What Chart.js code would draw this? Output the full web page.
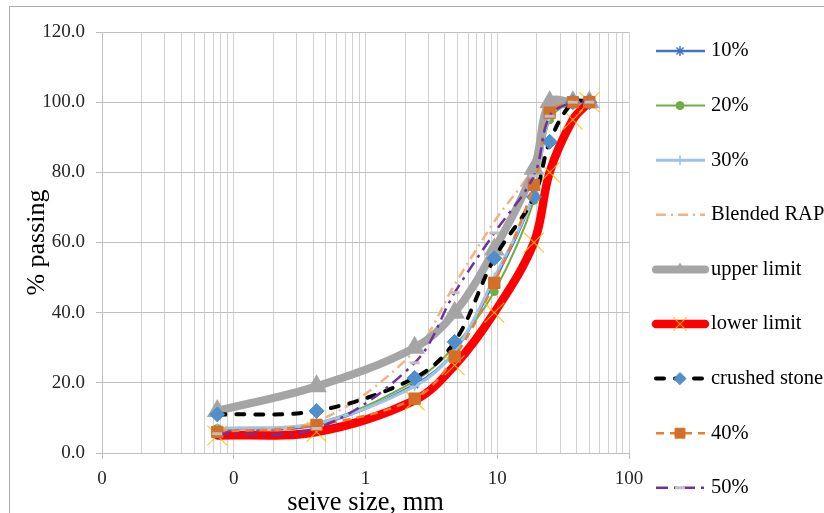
<!DOCTYPE html>
<html>
<head>
<meta charset="utf-8">
<script src="https://cdn.jsdelivr.net/npm/chart.js@4.4.1/dist/chart.umd.min.js"></script>
<style>
  html, body { margin: 0; padding: 0; background: #fff; overflow: hidden; }
  #wrap { position: absolute; left: 0; top: 0; }
</style>
</head>
<body>
<div id="wrap"><canvas id="gradationChart" width="860" height="530"></canvas></div>
<script>
// sieve sizes (mm) and % passing per blend
const sieveSizes   = [0.075, 0.425, 2.36, 4.75, 9.5, 19, 25, 37.5, 50];
const pct10        = [6.5, 8, 19.5, 29, 49, 74, 96, 100, 100];
const pct20        = [7, 8.5, 20.5, 30.5, 46, 72, 95, 100, 100];
const pct30        = [7, 8.5, 19, 29, 50, 74, 96, 100, 100];
const blendedRap   = [6, 9, 29, 48, 66, 82, 98, 100, 100];
const upperLimit   = [12, 19, 30, 40, 58, 81, 100, 100, 100];
const lowerLimit   = [5, 6, 15, 25, 40, 60, 80, 95, 100];
const crushedStone = [11, 12, 21.4, 31.7, 55.5, 73, 88.7, 100, 100];
const pct40        = [6, 8, 15.5, 27.5, 48.5, 76.4, 97, 100, 100];
const pct50        = [5.5, 7, 25.7, 45.7, 62.7, 79, 96, 100, 100];

const seriesNames = ['10%', '20%', '30%', 'Blended RAP', 'upper limit', 'lower limit', 'crushed stone', '40%', '50%'];
const seriesData = [pct10, pct20, pct30, blendedRap, upperLimit, lowerLimit, crushedStone, pct40, pct50];

const yTicks = [0, 20, 40, 60, 80, 100, 120];
const decades = [0.01, 0.1, 1, 10, 100];

const serif = "'Liberation Serif', 'Times New Roman', serif";
const W = 860, H = 530;
const plotLeft = 102, plotRight = 629, plotTop = 32, plotBottom = 453;

const styles = [
  {borderColor: '#4472C4', borderWidth: 2.5, pointStyle: 'star', pointRadius: 5, pointBorderColor: '#4472C4', pointBackgroundColor: '#4472C4', pointBorderWidth: 1.5},
  {borderColor: '#70AD47', borderWidth: 2, pointStyle: 'circle', pointRadius: 4, pointBorderColor: '#70AD47', pointBackgroundColor: '#70AD47', pointBorderWidth: 1},
  {borderColor: '#9DC3E6', borderWidth: 3, pointStyle: 'cross', pointRadius: 5, pointBorderColor: '#9DC3E6', pointBackgroundColor: '#9DC3E6', pointBorderWidth: 1.5},
  {borderColor: '#F4B183', borderWidth: 2.5, borderDash: [10, 5, 2, 5], pointRadius: 0},
  {borderColor: '#A5A5A5', borderWidth: 8, borderCapStyle: 'round', borderJoinStyle: 'round', pointStyle: 'triangle', pointRadius: 10, pointBorderColor: '#A5A5A5', pointBackgroundColor: '#A5A5A5', pointBorderWidth: 2},
  {borderColor: '#FF0000', borderWidth: 8.5, borderCapStyle: 'round', borderJoinStyle: 'round', pointStyle: 'crossRot', pointRadius: 14, pointBorderColor: 'rgba(255,192,0,0.85)', pointBackgroundColor: 'rgba(255,192,0,0.85)', pointBorderWidth: 1.2},
  {borderColor: '#000000', borderWidth: 4, borderDash: [8, 11], borderCapStyle: 'round', pointStyle: 'rectRot', pointRadius: 7.5, pointBorderColor: '#4F8FCB', pointBackgroundColor: '#4F8FCB', pointBorderWidth: 1},
  {borderColor: '#ED7D31', borderWidth: 2.5, borderDash: [8, 6], pointStyle: 'rect', pointRadius: 8, pointBorderColor: '#D46F28', pointBackgroundColor: '#D46F28', pointBorderWidth: 1},
  {borderColor: '#7030A0', borderWidth: 2.5, borderDash: [12, 6, 3, 6], pointStyle: 'line', pointRadius: 5, pointBorderColor: '#BFBFBF', pointBackgroundColor: '#BFBFBF', pointBorderWidth: 3}
];

const datasets = seriesNames.map((name, i) => Object.assign({
  label: name,
  data: sieveSizes.map((s, k) => ({x: s, y: seriesData[i][k]})),
  tension: 0.35,
  fill: false,
  order: -i
}, styles[i]));

// log grid positions: 1..9 in every decade
const gridValues = [];
decades.slice(0, -1).forEach(d => { for (let k = 1; k <= 9; k++) gridValues.push(+(k * d).toPrecision(3)); });
gridValues.push(100);
const isDecade = v => decades.some(d => Math.abs(d - v) < 1e-9);

const frameAndLegend = {
  id: 'frameAndLegend',
  beforeDraw(chart) {
    const ctx = chart.ctx;
    ctx.save();
    ctx.fillStyle = '#fff';
    ctx.fillRect(0, 0, W, H);
    ctx.strokeStyle = '#ABABAB';
    ctx.lineWidth = 1;
    ctx.strokeRect(9.5, 6.5, W, H);
    ctx.restore();
  },
  afterDraw(chart) {
    const ctx = chart.ctx;
    const helpers = Chart.helpers;
    chart.data.datasets.forEach((ds, i) => {
      const y = 51 + i * 54.6;
      ctx.save();
      ctx.strokeStyle = ds.borderColor;
      ctx.lineWidth = ds.borderWidth;
      ctx.lineCap = ds.borderCapStyle || 'butt';
      ctx.setLineDash(ds.borderDash || []);
      ctx.beginPath();
      ctx.moveTo(656, y);
      ctx.lineTo(705, y);
      ctx.stroke();
      ctx.setLineDash([]);
      if (ds.pointRadius > 0 && helpers && helpers.drawPoint) {
        ctx.fillStyle = ds.pointBackgroundColor;
        ctx.strokeStyle = ds.pointBorderColor;
        ctx.lineWidth = ds.pointBorderWidth;
        let r = ds.pointRadius;
        if (ds.pointStyle === 'triangle') r = 5;
        if (ds.pointStyle === 'crossRot') r = 9;
        if (ds.pointStyle === 'rectRot') r = 6;
        if (ds.pointStyle === 'rect') r = 7;
        helpers.drawPoint(ctx, {pointStyle: ds.pointStyle, radius: r, rotation: 0, borderWidth: ds.pointBorderWidth}, 680, y);
      }
      ctx.fillStyle = '#000';
      ctx.font = '20.5px ' + serif;
      ctx.textBaseline = 'middle';
      ctx.textAlign = 'left';
      ctx.fillText(ds.label, 711, y);
      ctx.restore();
    });
  }
};

new Chart(document.getElementById('gradationChart'), {
  type: 'line',
  data: {datasets},
  plugins: [frameAndLegend],
  options: {
    responsive: false,
    animation: false,
    events: [],
    layout: {padding: {left: 0, right: W - plotRight, top: plotTop, bottom: 0}},
    plugins: {legend: {display: false}, tooltip: {enabled: false}},
    scales: {
      x: {
        type: 'logarithmic',
        position: 'bottom',
        min: 0.01,
        max: 100,
        afterBuildTicks(scale) {
          scale.ticks = gridValues.map(v => ({value: v, major: isDecade(v)}));
        },
        afterFit(scale) { scale.height = H - plotBottom; },
        ticks: {
          autoSkip: false,
          maxRotation: 0,
          padding: 9,
          color: '#262626',
          font: {family: serif, size: 19},
          callback: v => isDecade(v) ? String(Math.round(v)) : ''
        },
        grid: {
          color: '#D0D0D0',
          tickLength: 6,
          tickColor: c => (c.tick && isDecade(c.tick.value)) ? '#BFBFBF' : 'rgba(0,0,0,0)'
        },
        border: {color: '#BFBFBF'},
        title: {display: true, text: 'seive size, mm', color: '#000', font: {family: serif, size: 26.5}, padding: {top: 0, bottom: 11}}
      },
      y: {
        min: 0,
        max: 120,
        afterBuildTicks(scale) { scale.ticks = yTicks.map(v => ({value: v})); },
        afterFit(scale) { scale.width = plotLeft; },
        ticks: {
          padding: 11,
          color: '#262626',
          font: {family: serif, size: 19},
          callback: v => v.toFixed(1)
        },
        grid: {color: '#BFBFBF', tickLength: 6},
        border: {color: '#BFBFBF'},
        title: {display: true, text: '% passing', color: '#000', font: {family: serif, size: 26}, padding: {top: 21.4, bottom: 0}}
      }
    }
  }
});
</script>
</body>
</html>
